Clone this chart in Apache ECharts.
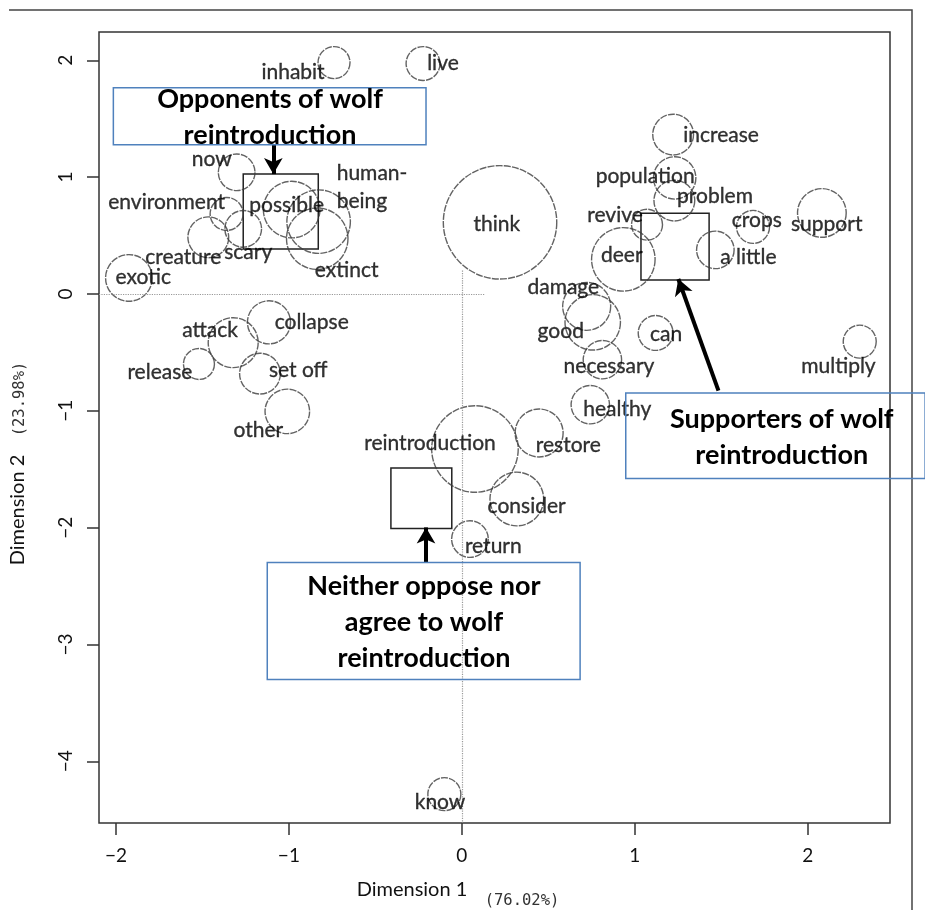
<!DOCTYPE html>
<html>
<head>
<meta charset="utf-8">
<script src="https://cdn.jsdelivr.net/npm/echarts@6/dist/echarts.min.js"></script>
<style>
html, body { margin: 0; padding: 0; background: #fff; }
#chartContainer { width: 925px; height: 910px; }
</style>
</head>
<body>
<div id="chartContainer"></div>
<script>
// Words of the correspondence analysis, with their position on both dimensions
const words = ['inhabit', 'live', 'now', 'environment', 'creature', 'scary', 'possible', 'human-being', 'extinct', 'exotic',
    'think', 'increase', 'population', 'problem', 'revive', 'deer', 'a little', 'crops', 'support', 'damage',
    'good', 'can', 'necessary', 'healthy', 'multiply', 'restore', 'reintroduction', 'consider', 'return', 'attack',
    'collapse', 'release', 'set off', 'other', 'know'];
const dim1 = [-0.739, -0.224, -1.302, -1.360, -1.466, -1.264, -0.984, -0.828, -0.836, -1.925,
    0.221, 1.222, 1.231, 1.229, 1.071, 0.934, 1.466, 1.684, 2.082, 0.722,
    0.757, 1.121, 0.813, 0.743, 2.301, 0.447, 0.076, 0.318, 0.047, -1.322,
    -1.115, -1.520, -1.167, -1.009, -0.101];
const dim2 = [1.980, 1.972, 1.041, 0.685, 0.485, 0.557, 0.722, 0.619, 0.473, 0.137,
    0.613, 1.364, 0.993, 0.799, 0.593, 0.296, 0.377, 0.574, 0.693, -0.106,
    -0.243, -0.334, -0.563, -0.948, -0.408, -1.190, -1.327, -1.755, -2.098, -0.417,
    -0.243, -0.599, -0.682, -1.005, -4.281];
// word frequency (bubble area)
const freq = [16, 18, 21, 17, 26, 21, 50, 63, 59, 34,
    201, 26, 28, 26, 15, 63, 22, 17, 37, 36,
    48, 19, 23, 23, 17, 36, 117, 45, 21, 39,
    29, 15, 26, 31, 17];
// where each word's label sits (plot coordinates)
const labelDim1 = [-0.976, -0.109, -1.446, -1.707, -1.611, -1.235, -1.013, -0.7235, -0.666, -1.842,
    0.202, 1.499, 1.060, 1.464, 0.886, 0.925, 1.657, 1.706, 2.110, 0.587,
    0.572, 1.181, 0.851, 0.899, 2.178, 0.616, -0.184, 0.375, 0.182, -1.456,
    -0.868, -1.746, -0.946, -1.177, -0.126];
const labelDim2 = [1.895, 1.972, 1.156, 0.784, 0.313, 0.356, 0.756, 0.910, 0.199, 0.142,
    0.599, 1.361, 1.004, 0.836, 0.670, 0.328, 0.313, 0.628, 0.593, 0.057,
    -0.320, -0.342, -0.622, -0.985, -0.620, -1.293, -1.279, -1.813, -2.161, -0.314,
    -0.243, -0.671, -0.657, -1.164, -4.347];

const xTicks = [-2, -1, 0, 1, 2];
const yTicks = [-4, -3, -2, -1, 0, 1, 2];

// Group annotations (text boxes, arrows, squares)
const groupText = ['Opponents of wolf\nreintroduction', 'Supporters of wolf\nreintroduction', 'Neither oppose nor\nagree to wolf\nreintroduction'];
const boxX0 = [-2.015, 0.948, -1.125];
const boxX1 = [-0.207, 2.679, 0.684];
const boxY0 = [1.764, -0.848, -2.298];
const boxY1 = [1.276, -1.579, -3.300];
const textX = [-1.109, 1.850, -0.219];
const textY = [1.512, -1.223, -2.814];
const arrowFrom = [[-1.090, 1.276], [1.484, -0.828], [-0.207, -2.298]];
const arrowTo = [[-1.090, 1.026], [1.252, 0.128], [-0.207, -1.998]];
const squareFrom = [[-1.264, 1.026], [1.036, 0.690], [-0.410, -1.490]];
const squareTo = [[-0.830, 0.384], [1.430, 0.120], [-0.058, -2.007]];

const xMin = -2.098, xMax = 2.476, yMin = -4.528, yMax = 2.242;

function tickText(v) {
    return v < 0 ? '\u2212' + Math.abs(v) : String(v);
}

const myChart = echarts.init(document.getElementById('chartContainer'));

const bubbles = words.map((w, i) => [dim1[i], dim2[i], freq[i], w]);
const labels = words.map((w, i) => {
    const item = { value: [labelDim1[i], labelDim2[i]], name: w };
    if (w.indexOf('-') > 0) item.label = { align: 'left', lineHeight: 28 };
    return item;
});

const option = {
    animation: false,
    backgroundColor: '#fff',
    grid: { left: 99, right: 35, top: 32, bottom: 87, show: true, borderColor: '#333', borderWidth: 1.5 },
    xAxis: {
        type: 'value', min: xMin, max: xMax,
        splitLine: { show: false },
        axisLine: { show: false, onZero: false },
        axisTick: { show: true, customValues: xTicks, length: 12, lineStyle: { color: '#333', width: 1.5 } },
        axisLabel: { customValues: xTicks, formatter: tickText, margin: 23, fontSize: 19, color: '#111', fontFamily: 'Lato' }
    },
    yAxis: {
        type: 'value', min: yMin, max: yMax,
        splitLine: { show: false },
        axisLine: { show: false, onZero: false },
        axisTick: { show: true, customValues: yTicks, length: 12, lineStyle: { color: '#333', width: 1.5 } },
        axisLabel: { customValues: yTicks, formatter: tickText, rotate: 90, margin: 24, fontSize: 19, color: '#111', fontFamily: 'Lato' }
    },
    series: [
        {
            type: 'scatter',
            data: bubbles,
            symbolSize: v => 8 * Math.sqrt(v[2]),
            itemStyle: { color: 'rgba(0,0,0,0)', borderColor: '#3c3c3c', borderWidth: 1.4, borderType: [7, 1.2] },
            markLine: {
                silent: true, symbol: 'none',
                lineStyle: { type: 'dotted', color: '#999', width: 1.2 },
                label: { show: false },
                data: [
                    [{ coord: [xMin, 0] }, { coord: [0.135, 0] }],
                    [{ coord: [0, 0.2] }, { coord: [0, yMin] }]
                ]
            },
            markArea: {
                silent: true,
                itemStyle: { color: 'rgba(0,0,0,0)', borderColor: '#222', borderWidth: 1.5 },
                data: squareFrom.map((p, i) => [{ coord: p }, { coord: squareTo[i] }])
            }
        },
        {
            type: 'scatter',
            data: labels,
            symbolSize: 1,
            itemStyle: { color: 'rgba(0,0,0,0)' },
            label: {
                show: true, position: 'inside',
                formatter: p => p.name.replace('-', '-\n'),
                fontFamily: 'Lato', fontSize: 21, color: '#000',
                textBorderColor: '#000', textBorderWidth: 0.35
            },
            z: 5
        },
        {
            type: 'scatter',
            data: [],
            markLine: {
                silent: true,
                symbol: ['none', 'arrow'],
                symbolSize: [14, 16],
                lineStyle: { type: 'solid', color: '#000', width: 4 },
                label: { show: false },
                data: arrowFrom.map((p, i) => [{ coord: p }, { coord: arrowTo[i] }])
            }
        }
    ]
};

myChart.setOption(option);

const graphics = [
    { type: 'polyline', shape: { points: [[9, 10], [912, 10], [912, 910]] }, style: { stroke: '#444', lineWidth: 1.5, fill: null } },
    { type: 'text', x: 412, y: 890, style: { text: 'Dimension 1', font: '20px Lato', fill: '#111', align: 'center', verticalAlign: 'middle' } },
    { type: 'text', x: 522, y: 901, style: { text: '(76.02%)', font: '15.5px "DejaVu Sans Mono"', fill: '#333', align: 'center', verticalAlign: 'middle' } },
    { type: 'text', x: 18, y: 510, rotation: Math.PI / 2, style: { text: 'Dimension 2', font: '20px Lato', fill: '#111', align: 'center', verticalAlign: 'middle' } },
    { type: 'text', x: 20, y: 399, rotation: Math.PI / 2, style: { text: '(23.98%)', font: '15.5px "DejaVu Sans Mono"', fill: '#333', align: 'center', verticalAlign: 'middle' } }
];

groupText.forEach((t, i) => {
    const p0 = myChart.convertToPixel({ gridIndex: 0 }, [boxX0[i], boxY0[i]]);
    const p1 = myChart.convertToPixel({ gridIndex: 0 }, [boxX1[i], boxY1[i]]);
    const pt = myChart.convertToPixel({ gridIndex: 0 }, [textX[i], textY[i]]);
    graphics.push({
        type: 'rect', z: 10,
        shape: { x: p0[0], y: p0[1], width: p1[0] - p0[0], height: p1[1] - p0[1] },
        style: { fill: null, stroke: '#4f81bd', lineWidth: 1.5 }
    });
    graphics.push({
        type: 'text', z: 11, x: pt[0], y: pt[1],
        style: { text: t, font: 'bold 27px Lato', fill: '#000', align: 'center', verticalAlign: 'middle', lineHeight: 36 }
    });
});

myChart.setOption({ graphic: graphics });
</script>
</body>
</html>
